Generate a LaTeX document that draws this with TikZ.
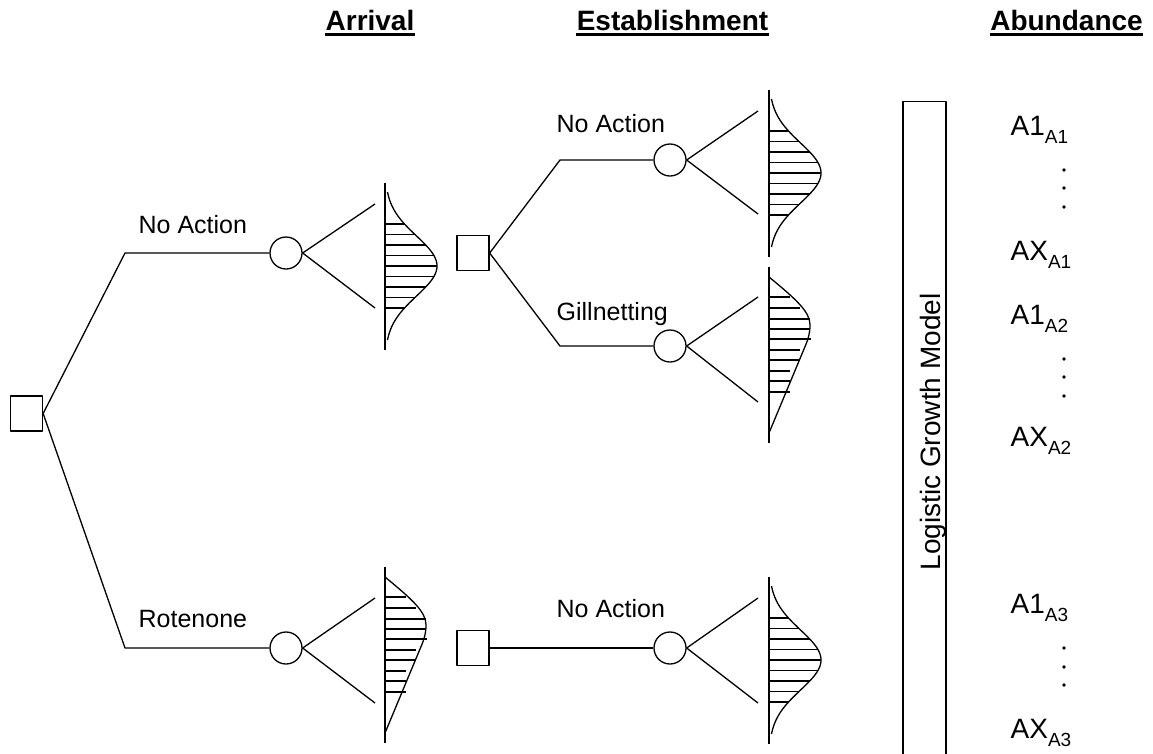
\documentclass[tikz,border=0pt]{standalone}
\usepackage{fontspec}
\setmainfont{Liberation Sans}
\newcommand\abl[2]{#1\raisebox{-8pt}{\fontsize{19}{19}\selectfont #2}}
\begin{document}
\begin{tikzpicture}[x=1pt,y=-1pt,line width=1.3pt,line join=round,
  dec/.style={draw,rectangle,minimum width=32pt,minimum height=35pt,inner sep=0},
  chance/.style={draw,circle,minimum size=32pt,inner sep=0},
  lab/.style={font=\fontsize{25}{30}\selectfont,anchor=base west,inner sep=0},
  hdr/.style={font=\bfseries\fontsize{28}{32}\selectfont,anchor=base,inner sep=0},
  abn/.style={font=\fontsize{28}{32}\selectfont,anchor=base west,inner sep=0},
  gauss/.pic={
    \draw (0,-83) -- (0,84);
    \draw plot[domain=-74:74,samples=80,smooth] ({52*exp(-(\x*\x)/1800)},\x);
    \foreach \t in {-42,-31.5,-21,-10.5,0,10.5,21,31.5,42}
      \draw (0,\t) -- ({52*exp(-(\t*\t)/1800)},\t);
  },
  skew/.pic={
    \draw (0,0) -- (0,176);
    \draw (0,10) .. controls (28,33) and (41,45) .. (41,58)
          .. controls (41,68) and (38,75) .. (35,82) -- (0,166);
    \foreach \yy/\ll in {30/21,41/31,52/41,62/41,72/42,83/31,93/31,104/21,114/21,125/21}
      \draw (0,\yy) -- (\ll,\yy);
  }]
\useasboundingbox (0,0) rectangle (1153,753);
\clip (0,0) rectangle (1153,753);

% headers
\node[hdr] (h1) at (370,30) {Arrival};
\node[hdr] (h2) at (672.5,30) {Establishment};
\node[hdr] (h3) at (1066.5,30) {Abundance};
\foreach \h in {h1,h2,h3}
  \draw[line width=2.5pt] ([yshift=-4.5pt]\h.base west) -- ([yshift=-4.5pt]\h.base east);

% decision and chance nodes
\node[dec] (d0) at (26.5,413.5) {};
\node[dec] (d1) at (473,253) {};
\node[dec] (d2) at (473,648) {};
\node[chance] (c1) at (286,253) {};
\node[chance] (c2) at (286,648) {};
\node[chance] (c3) at (670,160) {};
\node[chance] (c4) at (670,346) {};
\node[chance] (c5) at (670,648) {};

% bends
\coordinate (k1) at (125,253);
\coordinate (k2) at (125,648);
\coordinate (k3) at (560,160);
\coordinate (k4) at (560,346);

\draw (d0.east) -- (k1) -- (c1);
\draw (d0.east) -- (k2) -- (c2);
\draw (d1.east) -- (k3) -- (c3);
\draw (d1.east) -- (k4) -- (c4);
\draw (d2) -- (c5);

% fans
\coordinate (f1a) at (375,204); \coordinate (f1b) at (375,308);
\coordinate (f2a) at (375,598); \coordinate (f2b) at (375,703);
\coordinate (f3a) at (758,111); \coordinate (f3b) at (758,214);
\coordinate (f4a) at (758,297); \coordinate (f4b) at (758,402);
\coordinate (f5a) at (758,598); \coordinate (f5b) at (758,703);
\draw (f1a) -- (c1.east) -- (f1b);
\draw (f2a) -- (c2.east) -- (f2b);
\draw (f3a) -- (c3.east) -- (f3b);
\draw (f4a) -- (c4.east) -- (f4b);
\draw (f5a) -- (c5.east) -- (f5b);

% distributions
\pic at (385,266) {gauss};
\pic at (769,173) {gauss};
\pic at (769,660) {gauss};
\pic at (385,567) {skew};
\pic at (769,267) {skew};

% branch labels
\node[lab] (l1) at (138,233) {No Action};
\node[lab] (l2) at (138,627) {Rotenone};
\node[lab] (l3) at (556,132) {No Action};
\node[lab] (l4) at (556,320) {Gillnetting};
\node[lab] (l5) at (556,617) {No Action};

% logistic growth model
\node[draw,minimum width=43pt,minimum height=720pt,anchor=north,inner sep=0] (lgm) at (924.5,101) {};
\node[rotate=90,font=\fontsize{28}{32}\selectfont,inner sep=0] (lgmt) at (933,432) {Logistic Growth Model};

% abundance labels
\node[abn] (a1) at (1010,135) {\abl{A1}{A1}};
\node[abn] (a2) at (1010,260) {\abl{AX}{A1}};
\node[abn] (a3) at (1010,324) {\abl{A1}{A2}};
\node[abn] (a4) at (1010,446) {\abl{AX}{A2}};
\node[abn] (a5) at (1010,613) {\abl{A1}{A3}};
\node[abn] (a6) at (1010,738) {\abl{AX}{A3}};
\foreach \yy in {170,188,207, 359,377,396, 648,667,685}
  \fill (1064,\yy) circle (1.8);
\end{tikzpicture}
\end{document}
